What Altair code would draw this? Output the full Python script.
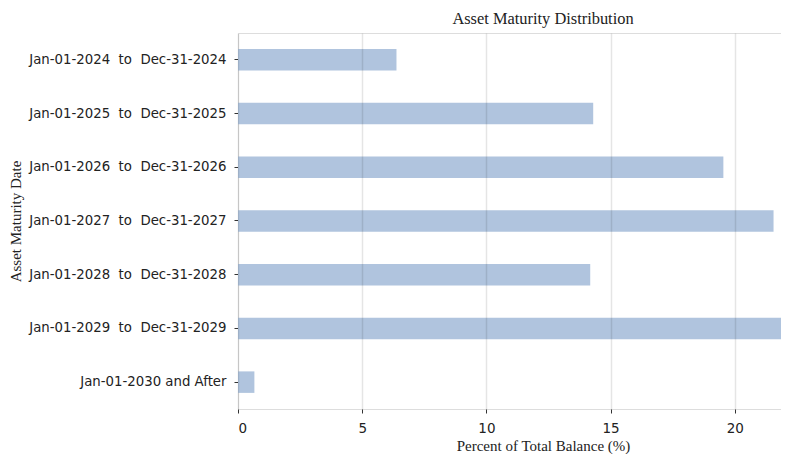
import altair as alt
import pandas as pd

categories = [
    "Jan-01-2024  to  Dec-31-2024",
    "Jan-01-2025  to  Dec-31-2025",
    "Jan-01-2026  to  Dec-31-2026",
    "Jan-01-2027  to  Dec-31-2027",
    "Jan-01-2028  to  Dec-31-2028",
    "Jan-01-2029  to  Dec-31-2029",
    "Jan-01-2030 and After",
]
percents = [6.38, 14.30, 19.54, 21.56, 14.18, 23.38, 0.66]
x_ticks = [0, 5, 10, 15, 20]

df = pd.DataFrame({"range": categories, "pct": percents})

NB = "\u00a0"
# keep the double spaces around "to" visible in SVG
label_expr = "replace(datum.label, '  to  ', '" + NB + " to" + NB + " ')"

PLOT_W = 543
PLOT_H = 376
X_MAX = 21.86
# centre of the original (wider) plot area, used for the titles
TITLE_X = 305

chart = (
    alt.Chart(df)
    .mark_bar(color="#b0c4de", clip=True)
    .encode(
        x=alt.X(
            "pct:Q",
            title="Percent of Total Balance (%)",
            scale=alt.Scale(domain=[0, X_MAX], nice=False, zero=True),
            axis=alt.Axis(
                values=x_ticks,
                grid=True,
                gridColor="#000000",
                gridOpacity=0.1,
                gridWidth=1.5,
                domain=False,
                tickColor="#333333",
                tickSize=4,
                labelFont="DejaVu Sans",
                labelFontSize=13.5,
                labelColor="#222222",
                labelPadding=8,
                titleFont="Liberation Serif",
                titleFontSize=15,
                titleFontWeight="normal",
                titleColor="#222222",
                titlePadding=4,
                titleX=TITLE_X,
                titleAnchor="middle",
                titleAlign="center",
                zindex=1,
            ),
        ),
        y=alt.Y(
            "range:N",
            sort=categories,
            title="Asset Maturity Date",
            scale=alt.Scale(paddingInner=0.6, paddingOuter=0.3),
            axis=alt.Axis(
                grid=False,
                domain=False,
                tickColor="#333333",
                tickSize=4,
                labelFont="DejaVu Sans",
                labelFontSize=13.3,
                labelColor="#222222",
                labelPadding=8,
                labelLimit=400,
                labelExpr=label_expr,
                titleFont="Liberation Serif",
                titleFontSize=15,
                titleFontWeight="normal",
                titleColor="#222222",
                titleX=-223,
                titleY=PLOT_H / 2,
                titleAngle=270,
                titleAlign="center",
                titleBaseline="middle",
            ),
        ),
    )
    .properties(
        width=PLOT_W,
        height=PLOT_H,
        title=alt.TitleParams(
            "Asset Maturity Distribution",
            font="Liberation Serif",
            fontSize=16.4,
            fontWeight="normal",
            color="#222222",
            anchor="middle",
            dx=TITLE_X - PLOT_W / 2,
            offset=6,
        ),
        autosize=alt.AutoSizeParams(type="none"),
        padding={"left": 230, "top": 25, "right": 0, "bottom": 45},
    )
    .configure_view(stroke=None, strokeWidth=0)
    .configure(background="white")
)

chart.save("out.html", embed_options={"renderer": "svg", "actions": False})
